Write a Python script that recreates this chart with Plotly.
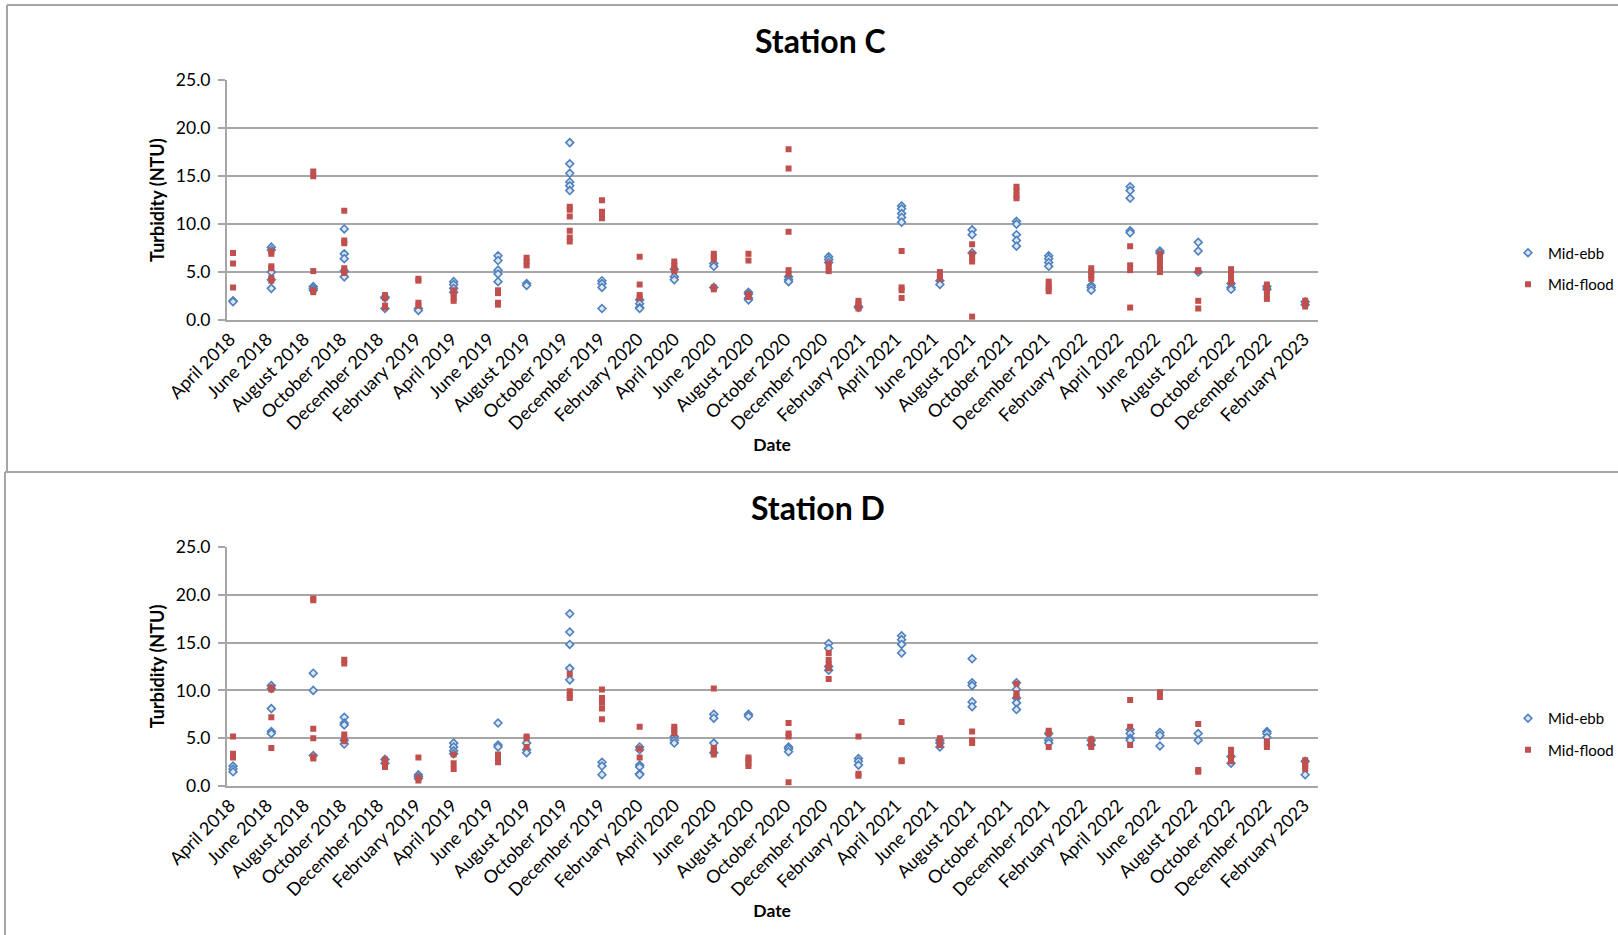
import plotly.graph_objects as go

# Sampling dates (one bimonthly survey each)
dates = [
    "2018-04-06", "2018-06-08", "2018-08-16", "2018-10-06", "2018-12-12",
    "2019-02-05", "2019-04-04", "2019-06-16", "2019-08-02", "2019-10-12",
    "2019-12-04", "2020-02-04", "2020-04-01", "2020-06-05", "2020-08-01",
    "2020-10-06", "2020-12-11", "2021-01-29", "2021-04-10", "2021-06-12",
    "2021-08-04", "2021-10-16", "2021-12-08", "2022-02-16", "2022-04-21",
    "2022-06-09", "2022-08-11", "2022-10-04", "2022-12-02", "2023-02-03",
]

# Station C turbidity (NTU), readings per survey
c_ebb = [
    [2.0, 1.9], [7.6, 7.3, 5.0, 4.2, 3.3], [3.5, 3.3, 3.1], [9.5, 6.9, 6.4, 5.1, 4.5],
    [2.4, 2.3, 1.2], [1.2, 1.0], [4.0, 3.7, 3.3, 2.9], [6.7, 6.2, 5.2, 4.8, 4.0],
    [3.8, 3.6], [18.5, 16.3, 15.3, 14.4, 14.0, 13.5], [4.1, 3.8, 3.4, 1.2],
    [2.1, 1.7, 1.3, 1.2], [5.3, 4.5, 4.2], [5.9, 5.6, 3.4], [2.9, 2.7, 2.3, 2.1],
    [4.5, 4.2, 4.0], [6.6, 6.3, 6.0], [1.4, 1.3], [11.9, 11.6, 11.1, 10.7, 10.2],
    [4.1, 3.7], [9.4, 8.9, 7.0], [10.3, 10.0, 8.9, 8.3, 7.7], [6.7, 6.4, 6.0, 5.6],
    [3.6, 3.4, 3.1], [13.9, 13.5, 12.7, 9.3, 9.1], [7.2, 7.0], [8.1, 7.2, 5.0],
    [3.8, 3.4, 3.2], [3.5, 3.2], [1.9, 1.6],
]
c_flood = [
    [7.0, 5.9, 3.4], [7.2, 6.9, 5.6, 5.4, 4.4, 4.1], [15.5, 15.0, 5.1, 3.1, 2.9],
    [11.4, 8.3, 8.0, 5.4, 5.1, 4.9], [2.6, 2.3, 1.5, 1.3], [4.3, 4.1, 1.8, 1.5],
    [3.1, 2.7, 2.3, 2.0], [3.1, 2.8, 1.8, 1.6], [6.5, 6.1, 5.7],
    [11.8, 11.5, 10.8, 9.3, 8.6, 8.2], [12.5, 11.3, 11.0, 10.6], [6.6, 3.7, 2.6, 2.3],
    [6.1, 5.7, 5.4, 5.1], [6.9, 6.6, 6.3, 3.4, 3.2], [6.9, 6.2, 2.7, 2.4],
    [17.8, 15.8, 9.2, 5.2, 4.8], [5.9, 5.5, 5.1], [2.0, 1.7, 1.4, 1.2],
    [7.2, 3.4, 3.1, 2.3], [5.0, 4.6, 4.3], [7.9, 6.9, 6.5, 6.1, 0.35],
    [13.9, 13.5, 13.0, 12.7], [4.0, 3.6, 3.3, 3.0], [5.4, 5.0, 4.7, 4.3],
    [7.7, 5.7, 5.2, 1.3], [6.9, 6.5, 6.1, 5.7, 5.3, 5.0], [5.2, 5.1, 2.0, 1.2],
    [5.3, 4.9, 4.5, 4.2, 3.9], [3.7, 3.4, 3.0, 2.6, 2.2], [2.0, 1.7, 1.4],
]

# Station D turbidity (NTU), readings per survey
d_ebb = [
    [2.1, 1.8, 1.5], [10.5, 10.2, 8.1, 5.7, 5.5], [11.8, 10.0, 3.2], [7.2, 6.6, 6.4, 4.8, 4.4],
    [2.8, 2.4], [1.2, 1.0, 0.8], [4.5, 4.1, 3.7, 3.4], [6.6, 4.3, 4.1], [4.5, 3.8, 3.5],
    [18.0, 16.1, 14.8, 12.3, 11.1], [2.5, 2.1, 1.2], [4.1, 3.8, 2.2, 2.0, 1.3, 1.2],
    [5.2, 4.8, 4.5], [7.5, 7.1, 4.5, 3.5], [7.5, 7.3], [4.1, 3.9, 3.6],
    [14.9, 14.4, 12.5, 12.1], [2.9, 2.6, 2.2], [15.7, 15.3, 14.8, 13.9], [4.8, 4.5, 4.1],
    [13.3, 10.8, 10.5, 8.8, 8.3], [10.8, 10.1, 9.2, 8.7, 8.0], [5.5, 4.8, 4.5], [4.8, 4.3],
    [5.9, 5.5, 5.0, 4.8], [5.6, 5.3, 4.2], [5.5, 4.8], [3.1, 2.4], [5.7, 5.5, 5.1], [2.6, 1.2],
]
d_flood = [
    [5.2, 3.4, 3.0], [10.3, 10.1, 7.2, 4.0], [19.6, 19.4, 6.0, 5.0, 3.1, 2.9],
    [13.2, 12.8, 5.4, 5.0, 4.7], [2.8, 2.6, 2.3, 2.0], [3.0, 0.9, 0.6], [3.3, 2.4, 1.8],
    [3.3, 2.9, 2.5], [5.2, 5.0, 4.1], [11.7, 9.9, 9.5, 9.2], [10.1, 9.2, 8.7, 8.1, 7.0],
    [6.2, 3.9, 3.0], [6.2, 5.9, 5.5], [10.2, 4.0, 3.8, 3.3], [3.0, 2.8, 2.4, 2.1],
    [6.6, 5.5, 5.2, 0.4], [13.9, 13.2, 12.7, 12.3, 11.2], [5.2, 1.3, 1.1], [6.7, 2.7, 2.6],
    [5.0, 4.7, 4.3], [5.7, 4.8, 4.5], [10.7, 9.7, 9.4], [5.8, 5.5, 4.1], [4.9, 4.5, 4.1],
    [9.0, 6.2, 4.3], [9.8, 9.3], [6.5, 1.7, 1.5], [3.8, 3.4, 3.0, 2.6], [4.7, 4.4, 4.1],
    [2.7, 2.4, 2.1, 1.8],
]

stations = ["Station C", "Station D"]
series_names = ["Mid-ebb", "Mid-flood"]

W, H = 1618, 935
FONT = "Lato, 'Open Sans', sans-serif"
GRID = "#a6a6a6"


def px_x(p):
    return p / W


def px_y(p):
    return 1 - p / H


def flatten(groups):
    xs, ys = [], []
    for d, vals in zip(dates, groups):
        for v in vals:
            xs.append(d)
            ys.append(v)
    return xs, ys


ebb_style = dict(symbol="diamond", size=6, color="#dce6f4",
                 line=dict(color="#4f81bd", width=1.6))
flood_style = dict(symbol="square", size=6, color="#c0504d",
                   line=dict(color="#c0504d", width=0))

fig = go.Figure()
panels = [(c_ebb, c_flood, "x", "y", "legend"), (d_ebb, d_flood, "x2", "y2", "legend2")]
for ebb, flood, xa, ya, lg in panels:
    for name, groups, style in [(series_names[0], ebb, ebb_style),
                                (series_names[1], flood, flood_style)]:
        xs, ys = flatten(groups)
        fig.add_trace(go.Scatter(
            x=xs, y=ys, mode="markers", name=name, marker=style,
            xaxis=xa, yaxis=ya, legend=lg, legendgroup=name + lg,
        ))

x_dom = [px_x(226.7), px_x(1317.6)]
x_range = ["2018-03-26 14:00", "2023-02-23 10:00"]

xaxis_common = dict(
    type="date", range=x_range, domain=x_dom, automargin=False,
    tick0="2018-04-01", dtick="M2", tickformat="%B %Y", tickangle=-45,
    showgrid=False, zeroline=False, showline=True, linecolor=GRID, linewidth=1.5,
    ticks="", tickfont=dict(family=FONT, size=18, color="#000"),
    title=dict(text="<b>Date</b>", font=dict(family=FONT, size=17.5, color="#000"), standoff=5),
)
yaxis_common = dict(
    range=[0, 25], dtick=5, tickformat=".1f", automargin=False,
    showgrid=True, gridcolor=GRID, gridwidth=1.5, zeroline=False,
    showline=True, linecolor=GRID, linewidth=1.5,
    ticks="outside", ticklen=7, tickcolor=GRID, tickwidth=1.5, ticklabelstandoff=4,
    tickfont=dict(family=FONT, size=17.5, color="#000"),
    title=dict(text="<b>Turbidity (NTU)</b>", font=dict(family=FONT, size=18, color="#000"), standoff=7),
)

legend_common = dict(
    x=px_x(1508), xanchor="left", yanchor="middle",
    font=dict(family=FONT, size=15, color="#000"),
    bgcolor="rgba(0,0,0,0)", traceorder="grouped", tracegroupgap=9,
    itemwidth=30,
)

fig.update_layout(
    template="none",
    width=W, height=H,
    margin=dict(l=0, r=0, t=0, b=0, autoexpand=False),
    paper_bgcolor="white", plot_bgcolor="white",
    showlegend=True,
    xaxis=dict(**xaxis_common, anchor="y"),
    yaxis=dict(**yaxis_common, domain=[px_y(320.0), px_y(80.3)], anchor="x"),
    xaxis2=dict(**xaxis_common, anchor="y2"),
    yaxis2=dict(**yaxis_common, domain=[px_y(786.2), px_y(546.7)], anchor="x2"),
    legend=dict(**legend_common, y=px_y(268.5)),
    legend2=dict(**legend_common, y=px_y(734)),
    annotations=[
        dict(text="<b>%s</b>" % stations[0], x=px_x(820), y=px_y(40.5), xref="paper", yref="paper",
             showarrow=False, xanchor="center", yanchor="middle",
             font=dict(family=FONT, size=32, color="#000")),
        dict(text="<b>%s</b>" % stations[1], x=px_x(818), y=px_y(507), xref="paper", yref="paper",
             showarrow=False, xanchor="center", yanchor="middle",
             font=dict(family=FONT, size=32, color="#000")),
    ],
    shapes=[
        # outline of the upper chart
        dict(type="line", xref="paper", yref="paper", x0=px_x(7), x1=px_x(7), y0=px_y(5), y1=px_y(472),
             line=dict(color=GRID, width=2)),
        dict(type="line", xref="paper", yref="paper", x0=px_x(7), x1=1, y0=px_y(5), y1=px_y(5),
             line=dict(color=GRID, width=2)),
        # outline of the lower chart
        dict(type="line", xref="paper", yref="paper", x0=px_x(5), x1=1, y0=px_y(472), y1=px_y(472),
             line=dict(color=GRID, width=2)),
        dict(type="line", xref="paper", yref="paper", x0=px_x(5), x1=px_x(5), y0=px_y(472), y1=0,
             line=dict(color=GRID, width=2)),
    ],
)

fig.write_html("out.html")
